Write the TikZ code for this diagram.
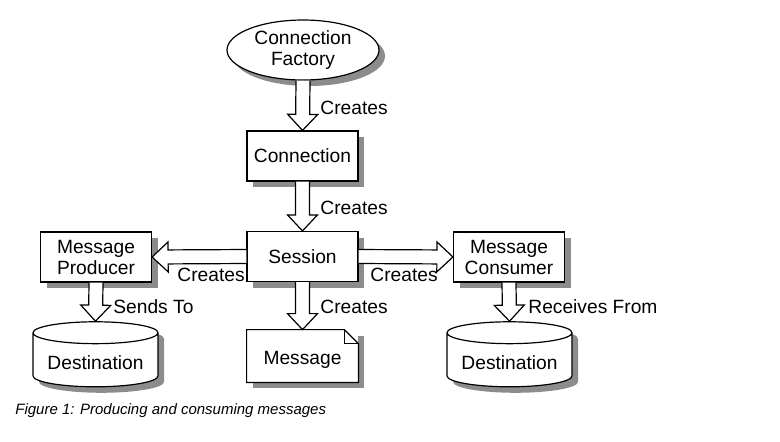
\documentclass[tikz,border=0pt]{standalone}
\usepackage{fontspec}
\setmainfont{Liberation Sans}
\usepackage{tikz}
\usetikzlibrary{positioning,calc,shapes.geometric}
\tikzstyle{shd}=[preaction={fill=black!45, transform canvas={xshift=3pt, yshift=-3pt}}]
\tikzstyle{box}=[rectangle, draw, fill=white, line width=0.6pt, minimum width=55.5pt, minimum height=25pt, align=center, shd, font=\fontsize{9.6}{10.5}\selectfont]
\tikzstyle{fac}=[ellipse, draw, fill=white, line width=0.6pt, minimum width=76pt, minimum height=30pt, inner sep=0pt, align=center, shd, font=\fontsize{9.6}{10.5}\selectfont]
\tikzstyle{store}=[cylinder, shape border rotate=90, draw, fill=white, line width=0.6pt, aspect=0.2, minimum width=62.5pt, minimum height=32.5pt, shd, font=\fontsize{9.6}{10.5}\selectfont]
\tikzstyle{note}=[rectangle, fill=white, minimum width=55.5pt, minimum height=26pt, shd, font=\fontsize{9.6}{10.5}\selectfont]
\tikzstyle{lbl}=[anchor=west, inner sep=0pt, font=\fontsize{9.6}{10.5}\selectfont]
\tikzstyle{flow}=[draw, fill=white, line width=0.6pt, to path={
  ($(\tikztostart)!3.5pt!90:(\tikztotarget)$)
  -- ($(\tikztotarget)!8pt!(\tikztostart)!3.5pt!-90:(\tikztostart)$)
  -- ($(\tikztotarget)!8pt!(\tikztostart)!7.5pt!-90:(\tikztostart)$)
  -- (\tikztotarget)
  -- ($(\tikztotarget)!8pt!(\tikztostart)!7.5pt!90:(\tikztostart)$)
  -- ($(\tikztotarget)!8pt!(\tikztostart)!3.5pt!90:(\tikztostart)$)
  -- ($(\tikztostart)!3.5pt!-90:(\tikztotarget)$)}]
\begin{document}
\begin{tikzpicture}[x=0.5pt, y=-0.5pt]
	\useasboundingbox (0,0) rectangle (780,441);
	% nodes
	\node[fac] (cf) at (303,50) {Connection\\Factory};
	\node[box] (conn) at (302.5,156) {Connection};
	\node[box] (ses) at (302.5,256.5) {Session};
	\node[box] (prod) at (96,257) {Message\\Producer};
	\node[box] (cons) at (509,257) {Message\\Consumer};
	\node[note] (msg) at (302.5,356) {\raisebox{-2pt}[\height][\depth]{Message}};
	\node[store] (d1) at (95.5,362.5) {Destination};
	\node[store] (d2) at (509.5,362.5) {Destination};
	\draw[line width=0.6pt] (msg.south west) -- (msg.north west) -- ([xshift=-7pt]msg.north east) -- ([yshift=-7pt]msg.north east) -- (msg.south east) -- cycle;
	\draw[line width=0.6pt] ([xshift=-7pt]msg.north east) |- ([yshift=-7pt]msg.north east);
	% arrows
	\draw[flow] (cf.south) to (conn.north);
	\draw[flow] (conn.south) to (ses.north);
	\draw[flow] (ses.west) to (prod.east);
	\draw[flow] (ses.east) to (cons.west);
	\draw[flow] (ses.south) to (msg.north);
	\draw[flow] (prod.south) to (d1.north);
	\draw[flow] (cons.south) to (d2.north);
	% labels
	\node[lbl] (l1) at (320,108) {Creates};
	\node[lbl] (l2) at (320,208) {Creates};
	\node[lbl] (l3) at (177,275) {Creates};
	\node[lbl] (l4) at (370,275) {Creates};
	\node[lbl] (l5) at (320,307) {Creates};
	\node[lbl] (l6) at (113,307) {Sends To};
	\node[lbl] (l7) at (528,307) {Receives From};
	\node[lbl, font=\fontsize{7.5}{9}\selectfont\itshape] (cap) at (15,411) {Figure 1: Producing and consuming messages};
\end{tikzpicture}
\end{document}
